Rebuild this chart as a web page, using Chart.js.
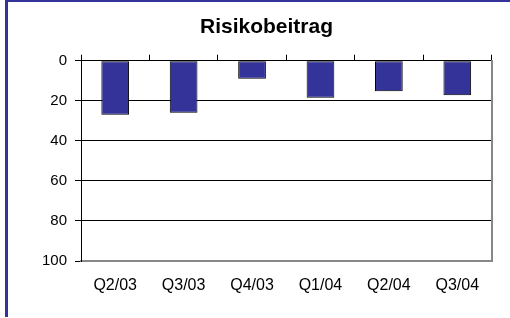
<!DOCTYPE html>
<html>
<head>
<meta charset="utf-8">
<script src="https://cdn.jsdelivr.net/npm/chart.js@4/dist/chart.umd.min.js"></script>
<style>
  html, body { margin: 0; padding: 0; background: #fff; }
  #wrap { position: relative; width: 510px; height: 318px; }
  #frame { position: absolute; left: 5px; top: 0; width: 502px; height: 315px;
           border-left: 3px solid #333399; border-top: 2px solid #333399; pointer-events: none; }
  canvas { position: absolute; left: 0; top: 0; }
</style>
</head>
<body>
<div id="wrap">
  <canvas id="c" width="510" height="318"></canvas>
  <div id="frame"></div>
</div>
<script>
const chartTitle = "Risikobeitrag";
const categories = ["Q2/03", "Q3/03", "Q4/03", "Q1/04", "Q2/04", "Q3/04"];
const risikobeitrag = [27, 26, 9, 18.5, 15.3, 17.3];
const yMin = 0, yMax = 100, yStep = 20;

const FONT = "'Liberation Sans', Arial, sans-serif";

new Chart(document.getElementById('c'), {
  type: 'bar',
  data: {
    labels: categories,
    datasets: [{
      label: chartTitle,
      data: risikobeitrag,
      backgroundColor: '#333399',
      borderColor: '#000000',
      borderWidth: 1,
      borderSkipped: false,
      categoryPercentage: 1.0,
      barPercentage: 0.405
    }]
  },
  options: {
    responsive: false,
    animation: false,
    devicePixelRatio: 1,
    layout: { padding: { left: 23, right: 0, top: 0, bottom: 0 } },
    plugins: {
      legend: { display: false },
      tooltip: { enabled: false },
      title: {
        display: true,
        text: chartTitle,
        color: '#000',
        font: { family: FONT, size: 21, weight: 'bold' },
        padding: { top: 15, bottom: 0 }
      }
    },
    scales: {
      x: {
        position: 'bottom',
        offset: true,
        grid: { display: true, drawOnChartArea: false, drawTicks: false, offset: true },
        border: { display: true, color: '#888888', width: 2 },
        ticks: { color: '#000', font: { family: FONT, size: 16 }, padding: 15, maxRotation: 0, autoSkip: false },
        afterFit: s => { s.height = 57; }
      },
      x2: {
        type: 'category',
        labels: categories,
        position: 'top',
        offset: true,
        grid: { display: true, drawOnChartArea: false, drawTicks: true, tickLength: 6, color: '#000', offset: true },
        border: { display: true, color: '#000', width: 1 },
        ticks: { display: false },
        afterFit: s => { s.height = 20.5; }
      },
      y: {
        reverse: true,
        min: yMin,
        max: yMax,
        position: 'left',
        grid: {
          color: ctx => (ctx.tick && ctx.tick.value === yMax) ? 'rgba(0,0,0,0)' : '#000',
          tickColor: '#000',
          lineWidth: 1,
          tickLength: 6
        },
        border: { display: true, color: '#000', width: 1 },
        ticks: { stepSize: yStep, color: '#000', font: { family: FONT, size: 15 }, padding: 8 },
        afterFit: s => { s.width = 58; }
      },
      y2: {
        type: 'linear',
        position: 'right',
        min: yMin,
        max: yMax,
        reverse: true,
        grid: { display: true, drawOnChartArea: false, drawTicks: false },
        border: { display: true, color: '#888888', width: 2 },
        ticks: { display: false },
        afterFit: s => { s.width = 18.5; }
      }
    }
  }
});
</script>
</body>
</html>
